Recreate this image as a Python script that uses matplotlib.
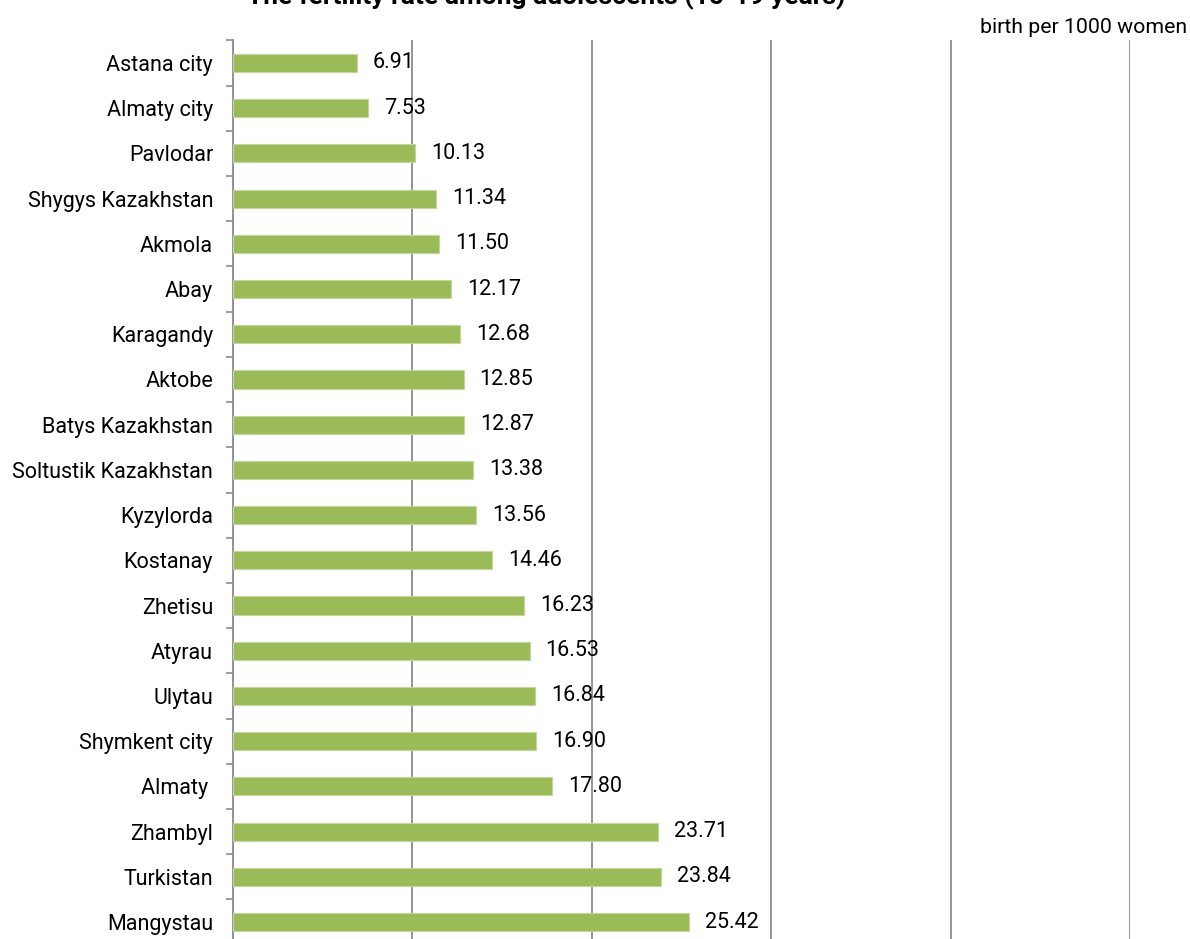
import matplotlib
matplotlib.use("Agg")
import matplotlib.pyplot as plt
import numpy as np

regions = ["Astana city", "Almaty city", "Pavlodar", "Shygys Kazakhstan", "Akmola",
           "Abay", "Karagandy", "Aktobe", "Batys Kazakhstan", "Soltustik Kazakhstan",
           "Kyzylorda", "Kostanay", "Zhetisu", "Atyrau", "Ulytau", "Shymkent city",
           "Almaty ", "Zhambyl", "Turkistan", "Mangystau"]
rates = [6.91, 7.53, 10.13, 11.34, 11.50, 12.17, 12.68, 12.85, 12.87, 13.38,
         13.56, 14.46, 16.23, 16.53, 16.84, 16.90, 17.80, 23.71, 23.84, 25.42]
x_ticks = [0, 10, 20, 30, 40, 50]

plt.rcParams["font.family"] = ["Roboto", "DejaVu Sans"]

fig = plt.figure(figsize=(11.9, 9.39), dpi=100)
ax = fig.add_axes([0.1958, -0.006, 0.7538, 0.963])

y = np.arange(len(regions))
ax.barh(y, rates, height=0.4, color="#9BBB59", edgecolor="#C3D69B", linewidth=0.8, zorder=3)
for yi, v in zip(y, rates):
    ax.annotate(f"{v:.2f}", (v, yi), xytext=(11.5, 0), textcoords="offset points",
                ha="left", va="center", fontsize=15.5, color="#000000", zorder=4)

ax.set_xlim(0, 50)
ax.set_ylim(len(regions) - 0.5, -0.5)
ax.set_xticks(x_ticks)
ax.set_xticklabels([])
ax.tick_params(axis="x", length=0)
ax.xaxis.grid(True, color="#8C8C8C", linewidth=1.3, zorder=0)

ax.set_yticks(y)
ax.set_yticklabels(regions, fontsize=15.5)
ax.set_yticks(np.arange(len(regions) + 1) - 0.5, minor=True)
ax.tick_params(axis="y", which="major", length=0, pad=14.4)
ax.tick_params(axis="y", which="minor", length=5, color="#8C8C8C", width=1.2)

for s in ["top", "right", "bottom"]:
    ax.spines[s].set_visible(False)
ax.spines["left"].set_color("#8C8C8C")
ax.spines["left"].set_linewidth(1.3)

fig.text(0.459, 0.9957, "The fertility rate among adolescents (15-19 years)",
         ha="center", va="baseline", fontsize=19, fontweight="bold")
fig.text(0.998, 0.971, "birth per 1000 women", ha="right", va="center", fontsize=15.3)

fig.savefig("out.png", dpi=100)
